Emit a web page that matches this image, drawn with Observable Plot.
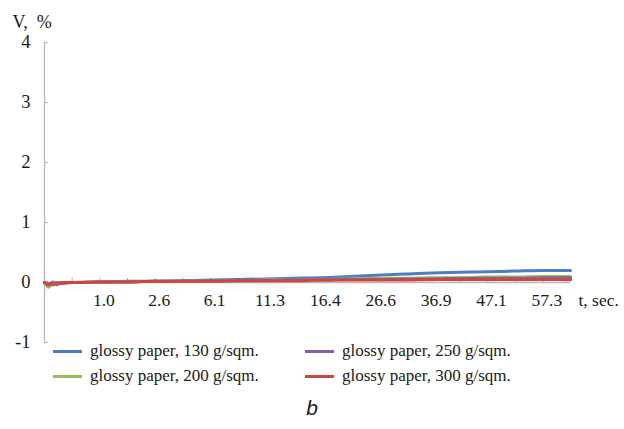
<!DOCTYPE html>
<html>
<head>
<meta charset="utf-8">
<script src="https://cdn.jsdelivr.net/npm/d3@7"></script>
<script src="https://cdn.jsdelivr.net/npm/@observablehq/plot@0.6"></script>
<style>
  body { margin: 0; background: #fff; }
  #wrap { position: relative; width: 624px; height: 429px; font-family: "Liberation Serif", "DejaVu Serif", serif; color: #1a1a1a; }
  #chart { position: absolute; left: 0; top: 0; }
  .leg { position: absolute; font-size: 17px; line-height: 20px; white-space: nowrap; }
  .leg .sw { display: inline-block; width: 29px; height: 3px; vertical-align: middle; margin-right: 8px; position: relative; top: -1px; }
  #panel { position: absolute; left: 0; width: 624px; top: 396px; text-align: center; font-family: "Liberation Sans", Arial, sans-serif; font-style: italic; font-size: 21px; }
</style>
</head>
<body>
<div id="wrap">
  <div id="chart"></div>
  <div id="legend"></div>
  <div id="panel">b</div>
</div>
<script>
// Sample positions along the category axis (tick index)
const idx = [0, 0.15, 0.3, 0.45, 0.6, 1, 2, 3, 4, 5, 6, 7, 8, 9, 10, 11, 12, 13, 14, 15, 16, 17, 18, 19];

// Relative deformation V, % for each paper grade
const v130 = [0, -0.03, 0.01, -0.02, 0.0, 0.0, 0.01, 0.02, 0.02, 0.03, 0.04, 0.05, 0.06, 0.07, 0.08, 0.10, 0.12, 0.14, 0.16, 0.17, 0.18, 0.19, 0.20, 0.20];
const v200 = [0, -0.08, 0.0, -0.04, 0.0, 0.0, 0.01, 0.01, 0.02, 0.02, 0.03, 0.03, 0.04, 0.04, 0.05, 0.06, 0.07, 0.07, 0.08, 0.08, 0.09, 0.09, 0.10, 0.10];
const v250 = [0, -0.02, -0.04, 0.0, -0.02, 0.0, 0.01, 0.01, 0.02, 0.02, 0.03, 0.03, 0.03, 0.04, 0.04, 0.05, 0.05, 0.06, 0.06, 0.07, 0.07, 0.07, 0.08, 0.08];
const v300 = [0, -0.04, -0.01, -0.03, 0.0, 0.0, 0.01, 0.01, 0.02, 0.02, 0.02, 0.03, 0.03, 0.03, 0.04, 0.04, 0.04, 0.04, 0.05, 0.05, 0.05, 0.05, 0.05, 0.05];

const seriesNames = ["glossy paper, 130 g/sqm.", "glossy paper, 200 g/sqm.", "glossy paper, 250 g/sqm.", "glossy paper, 300 g/sqm."];
const seriesColors = ["#4f7cc4", "#9bbb59", "#8064a2", "#d0453f"];
const seriesValues = [v130, v200, v250, v300];

// Category axis: tick positions and time labels (seconds)
const xTickIdx = d3.range(0, 20);
const xLabelIdx = [2, 4, 6, 8, 10, 12, 14, 16, 18];
const xLabels = ["1.0", "2.6", "6.1", "11.3", "16.4", "26.6", "36.9", "47.1", "57.3"];
const yTicks = [-1, 0, 1, 2, 3, 4];

const rows = seriesNames.flatMap((name, s) =>
  idx.map((x, i) => ({ series: name, x, v: seriesValues[s][i] })));

const axisColor = "#bdb6b2";
const font = "Liberation Serif, serif";

const chart = Plot.plot({
  width: 624,
  height: 429,
  marginLeft: 44,
  marginRight: 54,
  marginTop: 42,
  marginBottom: 87,
  style: { fontFamily: font, color: "#1a1a1a", background: "transparent" },
  x: { domain: [0, 19], axis: null },
  y: { domain: [-1, 4], axis: null },
  color: { domain: seriesNames, range: seriesColors },
  marks: [
    // vertical axis line with inner tick marks
    Plot.ruleX([0], { y1: -1, y2: 4, stroke: axisColor, strokeWidth: 1.3 }),
    Plot.ruleY(yTicks, { y: d => d, x1: 0, x2: 0.14, stroke: axisColor, strokeWidth: 1.2 }),
    Plot.text(yTicks, { y: d => d, x: 0, text: d => String(d), textAnchor: "end", dx: -14, fontSize: 18.5, fontFamily: font, fill: "#1a1a1a" }),
    // horizontal axis drawn through zero
    Plot.ruleY([0], { x1: 0, x2: 19, stroke: axisColor, strokeWidth: 1.3 }),
    Plot.ruleX(xTickIdx, { x: d => d, y1: 0, y2: 0.07, stroke: axisColor, strokeWidth: 1.2 }),
    Plot.text(xLabelIdx, { x: d => d, y: 0, text: (d, i) => xLabels[i], dx: 4, dy: 18, fontSize: 17.5, fontFamily: font, fill: "#1a1a1a" }),
    Plot.text(["t, sec."], { x: 19, y: 0, dx: 8, dy: 18, textAnchor: "start", fontSize: 17.5, fontFamily: font, fill: "#1a1a1a" }),
    Plot.text(["V,  %"], { frameAnchor: "top-left", dx: -32, dy: -27, textAnchor: "start", fontSize: 18, fontFamily: font, fill: "#1a1a1a" }),
    // series lines, red drawn last so it sits on top
    ...seriesNames.map(name => Plot.line(rows.filter(r => r.series === name), {
      x: "x", y: "v", stroke: "series", strokeWidth: 3, curve: "monotone-x"
    }))
  ]
});
document.getElementById("chart").append(chart);

// Two-column legend below the plot
const legendPos = [[53, 341], [53, 366], [305, 341], [305, 366]];
const legend = document.getElementById("legend");
seriesNames.forEach((name, i) => {
  const el = document.createElement("div");
  el.className = "leg";
  el.style.left = legendPos[i][0] + "px";
  el.style.top = legendPos[i][1] + "px";
  const sw = document.createElement("span");
  sw.className = "sw";
  sw.style.background = seriesColors[i];
  el.append(sw, document.createTextNode(name));
  legend.append(el);
});
</script>
</body>
</html>
